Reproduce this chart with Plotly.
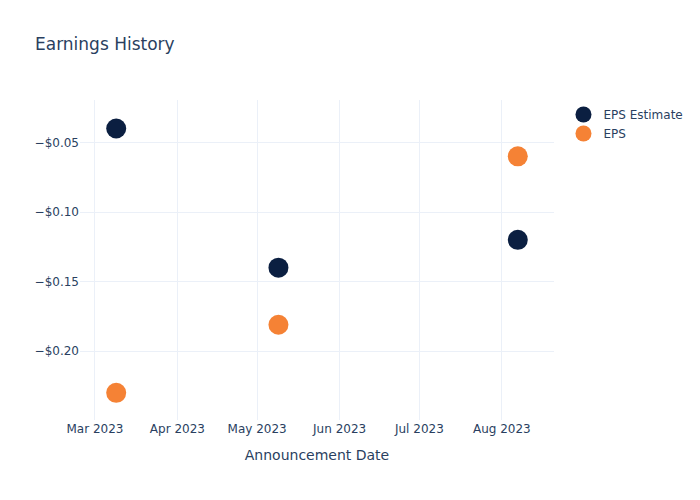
import plotly.graph_objects as go

dates = ["2023-03-09", "2023-05-09", "2023-08-07"]
eps_estimate = [-0.04, -0.14, -0.12]
eps_actual = [-0.23, -0.181, -0.06]

fig = go.Figure()
fig.add_trace(go.Scatter(x=dates, y=eps_estimate, mode="markers", name="EPS Estimate",
                         marker=dict(color="#0b1f41", size=20)))
fig.add_trace(go.Scatter(x=dates, y=eps_actual, mode="markers", name="EPS",
                         marker=dict(color="#f58235", size=20)))
fig.update_layout(
    template="plotly_white",
    width=700, height=500,
    font=dict(family="DejaVu Sans"),
    title=dict(text="Earnings History"),
    xaxis=dict(title=dict(text="Announcement Date")),
    yaxis=dict(tickformat="$.2f", range=[-0.2495, -0.0195]),
)
fig.write_html("out.html")
